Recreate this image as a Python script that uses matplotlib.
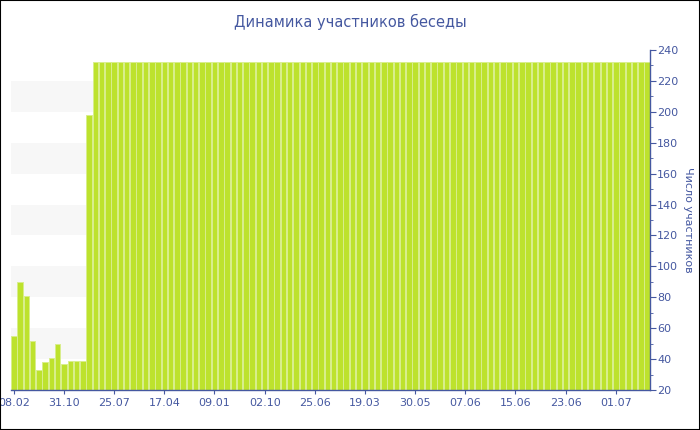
import numpy as np
import matplotlib
matplotlib.use("Agg")
import matplotlib.pyplot as plt
from matplotlib import ticker
from matplotlib.patches import Rectangle

members = [55, 90, 81, 52, 33, 38, 41, 50, 37, 39, 39, 39, 198,
           232, 232, 232, 232, 232, 232, 232, 232, 232, 232,
           232, 232, 232, 232, 232, 232, 232, 232, 232, 232,
           232, 232, 232, 232, 232, 232, 232, 232, 232, 232,
           232, 232, 232, 232, 232, 232, 232, 232, 232, 232,
           232, 232, 232, 232, 232, 232, 232, 232, 232, 232,
           232, 232, 232, 232, 232, 232, 232, 232, 232, 232,
           232, 232, 232, 232, 232, 232, 232, 232, 232, 232,
           232, 232, 232, 232, 232, 232, 232, 232, 232, 232,
           232, 232, 232, 232, 232, 232, 232, 232, 232]
date_labels = ["08.02", "31.10", "25.07", "17.04", "09.01", "02.10", "25.06",
               "19.03", "30.05", "07.06", "15.06", "23.06", "01.07"]
label_step = 8

blue = "#4558a0"
bar_green = "#bde22d"
bar_edge = "#d8ee8c"

fig = plt.figure(figsize=(7, 4.3), dpi=100)
ax = fig.add_axes([11/700, 40/430, 639/700, 340/430])

x = np.arange(len(members))
base = 20
for lo in (40, 80, 120, 160, 200):
    ax.axhspan(lo, lo + 20, color="#f7f7f7", zorder=0, lw=0)
ax.bar(x, np.array(members) - base, bottom=base, width=0.88, color=bar_green,
       edgecolor=bar_edge, linewidth=0.7, zorder=2)

ax.set_xlim(-0.45, len(members) - 0.55)
ax.set_ylim(20, 240)

ax.yaxis.tick_right()
ax.yaxis.set_label_position("right")
ax.yaxis.set_major_locator(ticker.MultipleLocator(20))
ax.yaxis.set_minor_locator(ticker.MultipleLocator(10))
ax.set_xticks(np.arange(len(date_labels)) * label_step)
ax.set_xticklabels(date_labels)

for side in ("top", "left"):
    ax.spines[side].set_visible(False)
for side in ("bottom", "right"):
    ax.spines[side].set_color(blue)
    ax.spines[side].set_linewidth(1)

ax.tick_params(axis="x", colors=blue, labelsize=8, length=3, pad=3)
ax.tick_params(axis="y", which="major", colors=blue, labelsize=8, length=4, pad=1)
ax.tick_params(axis="y", which="minor", colors=blue, length=2)
ax.set_ylabel("Число участников", color=blue, fontsize=8, rotation=270, labelpad=11)

fig.text(0.5, 1 - 22/430, "Динамика участников беседы", ha="center", va="center",
         color=blue, fontsize=10.5)

fig.patches.append(Rectangle((0, 0), 1, 1, transform=fig.transFigure, fill=False,
                             edgecolor="black", linewidth=1.5))

fig.savefig("out.png", dpi=100)
